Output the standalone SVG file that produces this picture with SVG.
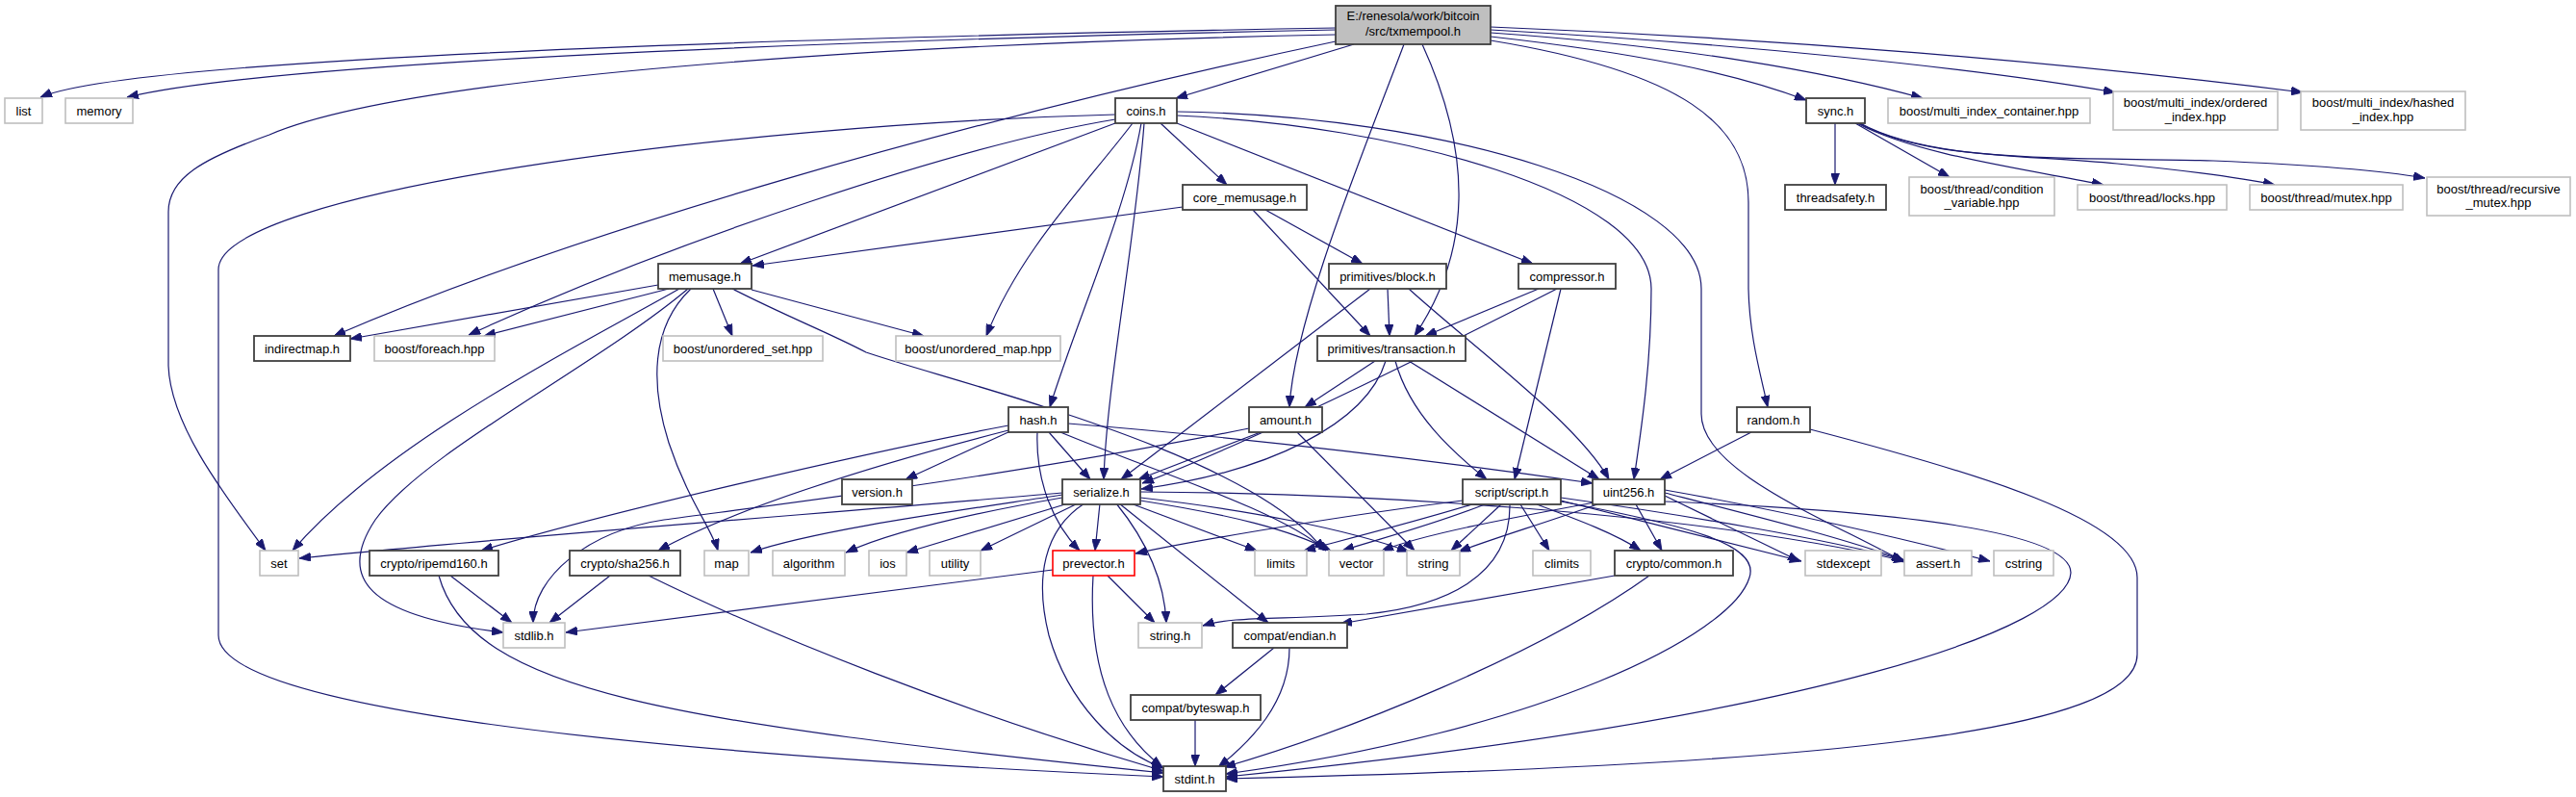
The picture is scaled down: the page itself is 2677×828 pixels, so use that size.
<svg xmlns="http://www.w3.org/2000/svg" width="2677" height="828" viewBox="0 0 2677 828">
<style>
text{font-family:"Liberation Sans",Arial,Helvetica,sans-serif;font-size:13px;text-anchor:middle;fill:#000}
.n rect{fill:#fff;stroke:#404040;stroke-width:1.8}
.x rect{fill:#fff;stroke:#bfbfbf;stroke-width:1.6}
.r rect{fill:#bfbfbf;stroke:#404040;stroke-width:1.8}
.p rect{fill:#fff;stroke:#ff0000;stroke-width:1.6}
#edges path{fill:none;stroke:#191970;stroke-width:1.2;marker-end:url(#a)}
</style>
<defs>
<marker id="a" markerWidth="12" markerHeight="9" refX="12" refY="4.5" orient="auto" markerUnits="userSpaceOnUse" viewBox="0 0 12 9"><path d="M0,0L12,4.5L0,9z" fill="#191970" stroke="#191970" stroke-width="0.8"/></marker>
</defs>
<rect x="0" y="0" width="2677" height="828" fill="#fff"/>
<g id="edges">
<path d="M1388,29 C1000,36 150,55 42,101"/>
<path d="M1388,31 C1000,39 300,60 132,101"/>
<path d="M1388,36 C900,46 420,80 280,140 C210,165 175,185 175,220 L175,380 C177,440 230,510 276,572"/>
<path d="M1388,43 C1000,125 600,240 347,349"/>
<path d="M1407,46 L1222,102"/>
<path d="M1459,46 C1420,150 1345,330 1340,423"/>
<path d="M1478,46 C1530,160 1530,260 1470,349"/>
<path d="M1549,38 C1700,55 1800,75 1877,104"/>
<path d="M1549,34 C1750,48 1900,75 1998,102"/>
<path d="M1549,31 C1800,45 2050,70 2198,96"/>
<path d="M1549,28 C1850,40 2150,65 2393,96"/>
<path d="M1549,42 C1750,75 1817,130 1817,210 L1817,300 C1818,350 1830,390 1837,423"/>
<path d="M1159,119 C750,130 227,200 227,280 L227,660 C227,730 600,780 1209,807"/>
<path d="M1159,124 C1000,150 700,250 487,348"/>
<path d="M1159,128 L769,274"/>
<path d="M1206,128 L1275,192"/>
<path d="M1177,128 C1130,190 1060,260 1025,349"/>
<path d="M1186,128 C1170,220 1120,330 1091,423"/>
<path d="M1189,128 C1180,250 1150,400 1147,498"/>
<path d="M1223,128 L1593,274"/>
<path d="M1223,120 C1450,130 1716,200 1716,300 C1716,380 1705,450 1698,498"/>
<path d="M1223,116 C1500,120 1768,200 1768,300 L1768,430 C1768,490 1900,540 1979,584"/>
<path d="M1229,215 L782,276"/>
<path d="M1315,218 L1416,274"/>
<path d="M1302,218 L1424,349"/>
<path d="M1442,300 L1444,349"/>
<path d="M1424,300 L1165,498"/>
<path d="M1464,300 C1530,360 1640,440 1672,498"/>
<path d="M1599,300 L1481,349"/>
<path d="M1618,300 C1500,360 1300,460 1187,502"/>
<path d="M1622,300 L1574,498"/>
<path d="M1429,375 L1356,423"/>
<path d="M1440,375 C1420,440 1320,490 1186,508"/>
<path d="M1450,375 C1465,430 1510,470 1545,498"/>
<path d="M1464,375 L1662,498"/>
<path d="M1050,448 L941,498"/>
<path d="M1090,449 L1133,498"/>
<path d="M1078,449 C1076,500 1095,545 1122,572"/>
<path d="M1110,440 C1300,455 1500,480 1655,502"/>
<path d="M1102,449 C1200,490 1330,530 1378,572"/>
<path d="M1048,442 C900,470 620,535 500,572"/>
<path d="M1048,447 C900,485 760,530 684,572"/>
<path d="M1310,449 L1183,498"/>
<path d="M1298,445 C1050,495 800,525 690,540 C610,552 554,600 554,647"/>
<path d="M1348,449 L1470,572"/>
<path d="M1104,512 C900,530 500,560 311,580"/>
<path d="M1104,514 C1000,530 850,550 780,574"/>
<path d="M1104,517 C1000,535 920,555 879,574"/>
<path d="M1110,523 L942,574"/>
<path d="M1120,523 L1019,572"/>
<path d="M1143,523 L1138,572"/>
<path d="M1160,523 C1190,560 1210,600 1212,647"/>
<path d="M1163,523 L1318,647"/>
<path d="M1127,523 C1085,550 1075,600 1090,660 C1110,730 1160,780 1209,798"/>
<path d="M1175,523 L1306,572"/>
<path d="M1185,520 C1280,535 1340,550 1383,572"/>
<path d="M1185,517 C1300,530 1400,550 1464,573"/>
<path d="M1185,511 C1400,512 1750,530 1980,583"/>
<path d="M1520,520 C1400,535 1250,560 1180,575"/>
<path d="M1530,524 C1460,545 1400,560 1355,572"/>
<path d="M1543,524 C1490,545 1440,558 1395,572"/>
<path d="M1560,524 L1508,572"/>
<path d="M1569,524 C1570,600 1500,630 1420,638 C1330,644 1280,640 1250,650"/>
<path d="M1580,524 L1610,572"/>
<path d="M1597,524 C1640,540 1680,555 1705,572"/>
<path d="M1622,520 C1700,540 1800,565 1872,583"/>
<path d="M1622,517 C1750,535 1900,560 1979,582"/>
<path d="M1622,521 C1750,545 1830,565 1818,600 C1800,660 1600,760 1274,804"/>
<path d="M1700,524 L1727,572"/>
<path d="M1657,522 C1560,540 1480,555 1436,572"/>
<path d="M1660,524 C1600,545 1550,560 1516,573"/>
<path d="M1730,515 L1870,583"/>
<path d="M1730,512 C1820,535 1920,560 1978,582"/>
<path d="M1730,509 C1850,530 1980,560 2068,583"/>
<path d="M1730,521 C1950,530 2152,550 2152,595 C2150,650 1900,745 1274,807"/>
<path d="M1678,598 L1393,648"/>
<path d="M1714,598 C1600,680 1400,760 1272,797"/>
<path d="M1094,592 L588,657"/>
<path d="M1151,598 L1200,647"/>
<path d="M1136,598 C1130,700 1160,760 1208,797"/>
<path d="M1324,673 L1263,722"/>
<path d="M1340,673 C1340,730 1300,770 1266,797"/>
<path d="M1242,748 L1242,796"/>
<path d="M468,598 L532,647"/>
<path d="M456,598 C490,720 700,750 1209,803"/>
<path d="M634,598 L571,647"/>
<path d="M674,598 C800,660 1000,740 1209,801"/>
<path d="M684,296 L364,352"/>
<path d="M695,300 L503,349"/>
<path d="M706,300 C600,360 400,460 304,572"/>
<path d="M715,300 C620,380 440,470 390,540 C350,600 380,640 523,657"/>
<path d="M718,300 C676,340 676,400 695,460 C715,520 740,550 746,572"/>
<path d="M741,300 L761,349"/>
<path d="M761,300 C820,330 860,345 900,366 C1000,400 1300,470 1376,572"/>
<path d="M781,301 L960,349"/>
<path d="M1907,128 L1907,192"/>
<path d="M1928,128 L2026,184"/>
<path d="M1930,128 C1990,160 2100,175 2186,192"/>
<path d="M1932,128 C2000,165 2100,160 2200,170 C2280,178 2330,185 2364,192"/>
<path d="M1933,128 C2010,170 2150,163 2300,167 C2420,172 2480,178 2520,185"/>
<path d="M1820,449 L1725,498"/>
<path d="M1881,446 C2050,490 2221,540 2221,600 L2221,680 C2221,760 1900,795 1274,809"/>
</g>
<g id="root" class="r"><rect x="1388" y="6" width="161" height="40"/><text x="1468.5" y="21">E:/renesola/work/bitcoin</text><text x="1468.5" y="37">/src/txmempool.h</text></g>
<g id="list" class="x"><rect x="5" y="102" width="39" height="26"/><text x="24.5" y="119.5">list</text></g>
<g id="memory" class="x"><rect x="68" y="102" width="70" height="26"/><text x="103" y="119.5">memory</text></g>
<g id="coins" class="n"><rect x="1159" y="102" width="64" height="26"/><text x="1191" y="119.5">coins.h</text></g>
<g id="sync" class="n"><rect x="1877" y="102" width="61" height="26"/><text x="1907.5" y="119.5">sync.h</text></g>
<g id="multi_index_container" class="x"><rect x="1962" y="102" width="210" height="26"/><text x="2067" y="119.5">boost/multi_index_container.hpp</text></g>
<g id="ordered_index" class="x"><rect x="2196" y="95" width="171" height="40"/><text x="2281.5" y="111">boost/multi_index/ordered</text><text x="2281.5" y="126">_index.hpp</text></g>
<g id="hashed_index" class="x"><rect x="2391" y="95" width="171" height="40"/><text x="2476.5" y="111">boost/multi_index/hashed</text><text x="2476.5" y="126">_index.hpp</text></g>
<g id="core_memusage" class="n"><rect x="1229" y="192" width="129" height="26"/><text x="1293.5" y="209.5">core_memusage.h</text></g>
<g id="threadsafety" class="n"><rect x="1855" y="192" width="105" height="26"/><text x="1907.5" y="209.5">threadsafety.h</text></g>
<g id="condition_variable" class="x"><rect x="1984" y="184" width="151" height="40"/><text x="2059.5" y="201">boost/thread/condition</text><text x="2059.5" y="215">_variable.hpp</text></g>
<g id="locks" class="x"><rect x="2159" y="192" width="155" height="26"/><text x="2236.5" y="209.5">boost/thread/locks.hpp</text></g>
<g id="mutex" class="x"><rect x="2338" y="192" width="159" height="26"/><text x="2417.5" y="209.5">boost/thread/mutex.hpp</text></g>
<g id="recursive_mutex" class="x"><rect x="2522" y="184" width="149" height="40"/><text x="2596.5" y="201">boost/thread/recursive</text><text x="2596.5" y="215">_mutex.hpp</text></g>
<g id="memusage" class="n"><rect x="684" y="274" width="97" height="26"/><text x="732.5" y="291.5">memusage.h</text></g>
<g id="block" class="n"><rect x="1381" y="274" width="122" height="26"/><text x="1442" y="291.5">primitives/block.h</text></g>
<g id="compressor" class="n"><rect x="1578" y="274" width="101" height="26"/><text x="1628.5" y="291.5">compressor.h</text></g>
<g id="indirectmap" class="n"><rect x="264" y="349" width="100" height="26"/><text x="314" y="366.5">indirectmap.h</text></g>
<g id="foreach" class="x"><rect x="389" y="349" width="125" height="26"/><text x="451.5" y="366.5">boost/foreach.hpp</text></g>
<g id="unordered_set" class="x"><rect x="689" y="349" width="166" height="26"/><text x="772" y="366.5">boost/unordered_set.hpp</text></g>
<g id="unordered_map" class="x"><rect x="931" y="349" width="171" height="26"/><text x="1016.5" y="366.5">boost/unordered_map.hpp</text></g>
<g id="transaction" class="n"><rect x="1369" y="349" width="154" height="26"/><text x="1446" y="366.5">primitives/transaction.h</text></g>
<g id="hash" class="n"><rect x="1048" y="423" width="62" height="26"/><text x="1079" y="440.5">hash.h</text></g>
<g id="amount" class="n"><rect x="1298" y="423" width="76" height="26"/><text x="1336" y="440.5">amount.h</text></g>
<g id="random" class="n"><rect x="1805" y="423" width="76" height="26"/><text x="1843" y="440.5">random.h</text></g>
<g id="version" class="n"><rect x="875" y="498" width="73" height="26"/><text x="911.5" y="515.5">version.h</text></g>
<g id="serialize" class="n"><rect x="1104" y="498" width="81" height="26"/><text x="1144.5" y="515.5">serialize.h</text></g>
<g id="script" class="n"><rect x="1520" y="498" width="102" height="26"/><text x="1571" y="515.5">script/script.h</text></g>
<g id="uint256" class="n"><rect x="1655" y="498" width="75" height="26"/><text x="1692.5" y="515.5">uint256.h</text></g>
<g id="set" class="x"><rect x="270" y="572" width="40" height="26"/><text x="290" y="589.5">set</text></g>
<g id="ripemd160" class="n"><rect x="384" y="572" width="134" height="26"/><text x="451" y="589.5">crypto/ripemd160.h</text></g>
<g id="sha256" class="n"><rect x="592" y="572" width="115" height="26"/><text x="649.5" y="589.5">crypto/sha256.h</text></g>
<g id="map" class="x"><rect x="732" y="572" width="46" height="26"/><text x="755" y="589.5">map</text></g>
<g id="algorithm" class="x"><rect x="803" y="572" width="75" height="26"/><text x="840.5" y="589.5">algorithm</text></g>
<g id="ios" class="x"><rect x="903" y="572" width="39" height="26"/><text x="922.5" y="589.5">ios</text></g>
<g id="utility" class="x"><rect x="966" y="572" width="53" height="26"/><text x="992.5" y="589.5">utility</text></g>
<g id="prevector" class="p"><rect x="1094" y="572" width="85" height="26"/><text x="1136.5" y="589.5">prevector.h</text></g>
<g id="limits" class="x"><rect x="1304" y="572" width="54" height="26"/><text x="1331" y="589.5">limits</text></g>
<g id="vector" class="x"><rect x="1381" y="572" width="57" height="26"/><text x="1409.5" y="589.5">vector</text></g>
<g id="string" class="x"><rect x="1462" y="572" width="55" height="26"/><text x="1489.5" y="589.5">string</text></g>
<g id="climits" class="x"><rect x="1593" y="572" width="60" height="26"/><text x="1623" y="589.5">climits</text></g>
<g id="common" class="n"><rect x="1678" y="572" width="123" height="26"/><text x="1739.5" y="589.5">crypto/common.h</text></g>
<g id="stdexcept" class="x"><rect x="1876" y="572" width="79" height="26"/><text x="1915.5" y="589.5">stdexcept</text></g>
<g id="assert" class="x"><rect x="1979" y="572" width="70" height="26"/><text x="2014" y="589.5">assert.h</text></g>
<g id="cstring" class="x"><rect x="2072" y="572" width="62" height="26"/><text x="2103" y="589.5">cstring</text></g>
<g id="stdlib" class="x"><rect x="523" y="647" width="64" height="26"/><text x="555" y="664.5">stdlib.h</text></g>
<g id="string_h" class="x"><rect x="1183" y="647" width="66" height="26"/><text x="1216" y="664.5">string.h</text></g>
<g id="endian" class="n"><rect x="1281" y="647" width="119" height="26"/><text x="1340.5" y="664.5">compat/endian.h</text></g>
<g id="byteswap" class="n"><rect x="1175" y="722" width="135" height="26"/><text x="1242.5" y="739.5">compat/byteswap.h</text></g>
<g id="stdint" class="n"><rect x="1209" y="796" width="65" height="26"/><text x="1241.5" y="813.5">stdint.h</text></g>
</svg>
